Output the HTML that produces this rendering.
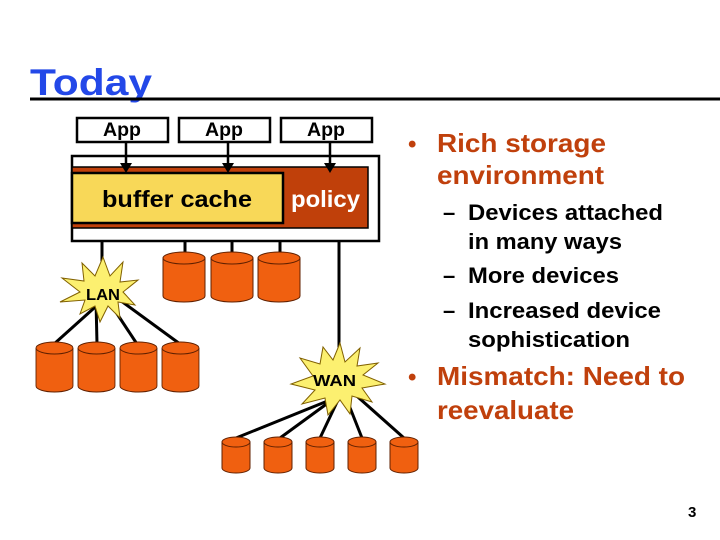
<!DOCTYPE html>
<html><head><meta charset="utf-8"><style>html,body{margin:0;padding:0;background:#fff}svg{display:block}</style></head>
<body>
<svg width="720" height="540" viewBox="0 0 720 540" xmlns="http://www.w3.org/2000/svg" font-family="Liberation Sans, Arial, sans-serif" font-weight="bold">
<defs>
<g id="cyl">
<path d="M0,6 L0,44 A21,6 0 0 0 42,44 L42,6" fill="#f06010" stroke="#602000" stroke-width="1"/>
<ellipse cx="21" cy="6" rx="21" ry="6" fill="#f06010" stroke="#602000" stroke-width="1"/>
</g>
<g id="scyl">
<path d="M0,5 L0,31 A14,5 0 0 0 28,31 L28,5" fill="#f06010" stroke="#602000" stroke-width="1"/>
<ellipse cx="14" cy="5" rx="14" ry="5" fill="#f06010" stroke="#602000" stroke-width="1"/>
</g>
</defs>
<text x="30" y="95" font-size="37" fill="#2348e8" textLength="122" lengthAdjust="spacingAndGlyphs">Today</text>
<line x1="30" y1="99" x2="720" y2="99" stroke="#000" stroke-width="3"/>

<g stroke="#000" stroke-width="2.5" fill="#fff">
<rect x="77" y="118" width="91" height="24"/>
<rect x="179" y="118" width="91" height="24"/>
<rect x="281" y="118" width="91" height="24"/>
<rect x="72" y="156" width="307" height="85"/>
</g>
<g font-size="19" fill="#000">
<text x="103" y="136" textLength="38" lengthAdjust="spacingAndGlyphs">App</text>
<text x="205" y="136" textLength="38" lengthAdjust="spacingAndGlyphs">App</text>
<text x="307" y="136" textLength="38" lengthAdjust="spacingAndGlyphs">App</text>
</g>
<rect x="72" y="167" width="296" height="61" fill="#c0400a" stroke="#000" stroke-width="1.5"/>
<rect x="72" y="173" width="211" height="50" fill="#f8d858" stroke="#000" stroke-width="2.5"/>
<text x="102" y="207" font-size="23" fill="#000" textLength="150" lengthAdjust="spacingAndGlyphs">buffer cache</text>
<text x="291" y="207" font-size="23" fill="#fff" textLength="69" lengthAdjust="spacingAndGlyphs">policy</text>
<g stroke="#000" stroke-width="2.5">
<line x1="126" y1="142" x2="126" y2="165"/><line x1="228" y1="142" x2="228" y2="165"/><line x1="330" y1="142" x2="330" y2="165"/>
</g>
<g fill="#000">
<polygon points="120,163 132,163 126,173"/><polygon points="222,163 234,163 228,173"/><polygon points="324,163 336,163 330,173"/>
</g>

<g stroke="#000" stroke-width="3">
<line x1="102" y1="241" x2="102" y2="272"/>
<line x1="185" y1="241" x2="185" y2="254"/><line x1="232" y1="241" x2="232" y2="254"/><line x1="280" y1="241" x2="280" y2="254"/>
<line x1="339" y1="241" x2="339" y2="352"/>
<line x1="103" y1="300" x2="54" y2="344"/><line x1="96" y1="300" x2="97" y2="344"/><line x1="108" y1="300" x2="137" y2="344"/><line x1="113" y1="295" x2="180" y2="344"/>
<line x1="330" y1="400" x2="236" y2="438"/><line x1="332" y1="400" x2="280" y2="438"/><line x1="338" y1="400" x2="320" y2="438"/><line x1="345" y1="395" x2="362" y2="438"/><line x1="350" y1="390" x2="404" y2="438"/>
</g>
<use href="#cyl" x="163" y="252"/><use href="#cyl" x="211" y="252"/><use href="#cyl" x="258" y="252"/>
<g transform="translate(36,342) scale(0.88,1)"><use href="#cyl"/></g>
<g transform="translate(78,342) scale(0.88,1)"><use href="#cyl"/></g>
<g transform="translate(120,342) scale(0.88,1)"><use href="#cyl"/></g>
<g transform="translate(162,342) scale(0.88,1)"><use href="#cyl"/></g>
<use href="#scyl" x="222" y="437"/><use href="#scyl" x="264" y="437"/><use href="#scyl" x="306" y="437"/><use href="#scyl" x="348" y="437"/><use href="#scyl" x="390" y="437"/>

<polygon points="103,257 110,276 123,262 120,282 138,280 123,292 135,305 118,302 120,318 108,306 100,322 95,306 80,314 85,300 60,302 80,292 62,278 84,281 82,263 95,276" fill="#fcf070" stroke="#806000" stroke-width="1"/>
<text x="86" y="300" font-size="16" fill="#000" textLength="34" lengthAdjust="spacingAndGlyphs">LAN</text>
<polygon points="340,343 345,362 360,348 357,366 378,363 363,375 385,384 362,388 372,402 352,396 350,414 340,400 328,415 325,398 302,404 315,390 291,384 313,376 300,358 320,364 323,347 333,360" fill="#fcf070" stroke="#806000" stroke-width="1"/>
<text x="313" y="386" font-size="16" fill="#000" textLength="43" lengthAdjust="spacingAndGlyphs">WAN</text>

<g fill="#c0400c" font-size="26">
<text x="408" y="152" font-size="24">•</text>
<text x="437" y="152" textLength="169" lengthAdjust="spacingAndGlyphs">Rich storage</text>
<text x="437" y="184" textLength="167" lengthAdjust="spacingAndGlyphs">environment</text>
<text x="408" y="385" font-size="24">•</text>
<text x="437" y="385" textLength="248" lengthAdjust="spacingAndGlyphs">Mismatch: Need to</text>
<text x="437" y="419" textLength="137" lengthAdjust="spacingAndGlyphs">reevaluate</text>
</g>
<g fill="#000" font-size="22">
<text x="443" y="220">–</text><text x="468" y="220" textLength="195" lengthAdjust="spacingAndGlyphs">Devices attached</text>
<text x="468" y="249" textLength="154" lengthAdjust="spacingAndGlyphs">in many ways</text>
<text x="443" y="283">–</text><text x="468" y="283" textLength="151" lengthAdjust="spacingAndGlyphs">More devices</text>
<text x="443" y="318">–</text><text x="468" y="318" textLength="193" lengthAdjust="spacingAndGlyphs">Increased device</text>
<text x="468" y="347" textLength="162" lengthAdjust="spacingAndGlyphs">sophistication</text>
</g>
<text x="688" y="517" font-size="15" fill="#000">3</text>
</svg>
</body></html>
